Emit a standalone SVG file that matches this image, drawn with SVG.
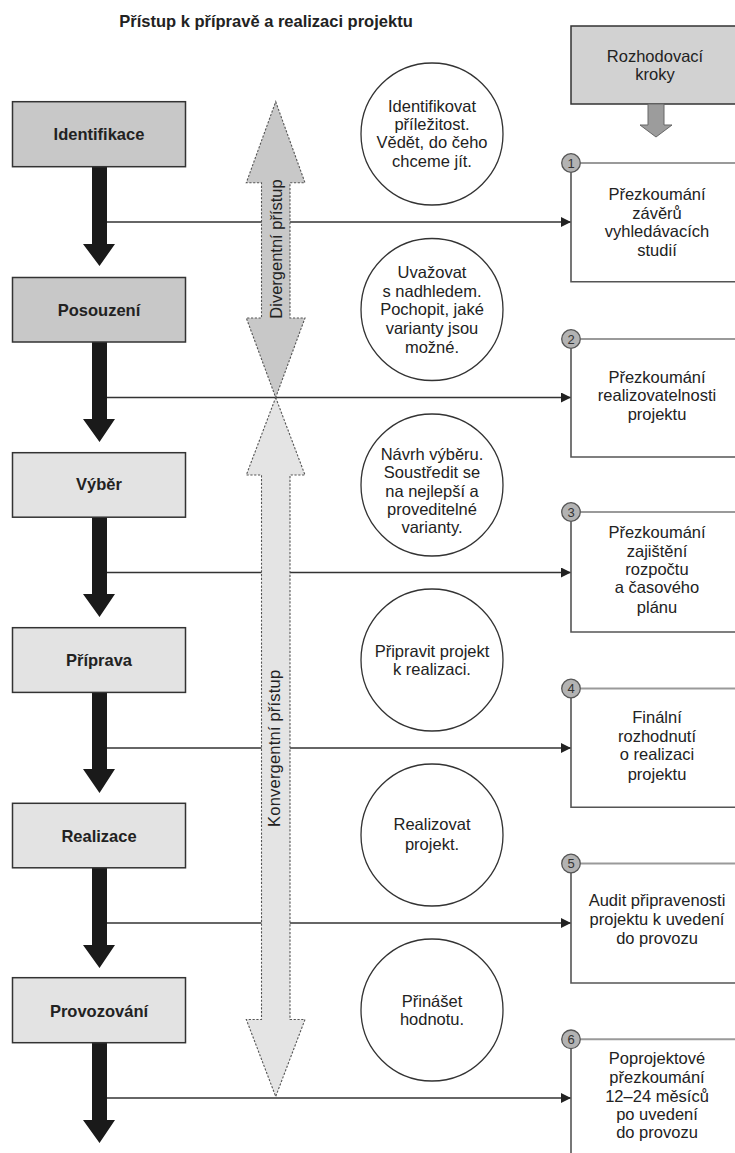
<svg xmlns="http://www.w3.org/2000/svg" width="735" height="1153" viewBox="0 0 735 1153">
<defs>
<style>
text{font-family:"Liberation Sans",Arial,sans-serif;fill:#222;font-size:16.5px;text-anchor:middle}
.b{font-weight:bold}
.phaseA{fill:#c8c8c8;stroke:#333;stroke-width:1.5}
.phaseB{fill:#e3e3e3;stroke:#333;stroke-width:1.5}
.blk{fill:#1a1a1a}
.conn{stroke:#333;stroke-width:1.4;fill:none}
.ell{fill:#fff;stroke:#333;stroke-width:1.3}
.num{fill:#b3b3b3;stroke:#555;stroke-width:1.3}
.numt{font-size:13px;fill:#333}
.rside{stroke:#555;stroke-width:1.6;fill:none}
.rtop{stroke:#9a9a9a;stroke-width:2;fill:none}
.dash{stroke:#555;stroke-width:1.1;stroke-dasharray:2.2 1.6}
</style>
<marker id="ah" viewBox="0 0 10 10" refX="10" refY="5" markerWidth="10" markerHeight="10" markerUnits="userSpaceOnUse" orient="auto">
<path d="M0,0 L10,5 L0,10 Z" fill="#222"/>
</marker>
</defs>
<rect width="735" height="1153" fill="#fff"/>
<text class="b" x="266" y="27">Přístup k přípravě a realizaci projektu</text>

<g id="connectors">
<line class="conn" x1="107" y1="222" x2="571" y2="222" marker-end="url(#ah)"/>
<line class="conn" x1="107" y1="397.5" x2="571" y2="397.5" marker-end="url(#ah)"/>
<line class="conn" x1="107" y1="572.5" x2="571" y2="572.5" marker-end="url(#ah)"/>
<line class="conn" x1="107" y1="748" x2="571" y2="748" marker-end="url(#ah)"/>
<line class="conn" x1="107" y1="923" x2="571" y2="923" marker-end="url(#ah)"/>
<line class="conn" x1="107" y1="1098" x2="571" y2="1098" marker-end="url(#ah)"/>
<path class="blk" d="M92,166.7 H107 V244 H115 L99.5,266 L83,244 H92 Z"/>
<path class="blk" d="M92,342 H107 V419 H115 L99.5,442 L83,419 H92 Z"/>
<path class="blk" d="M92,517 H107 V594 H115 L99.5,617 L83,594 H92 Z"/>
<path class="blk" d="M92,692.5 H107 V769 H115 L99.5,793 L83,769 H92 Z"/>
<path class="blk" d="M92,868 H107 V945 H115 L99.5,968 L83,945 H92 Z"/>
<path class="blk" d="M92,1043 H107 V1120 H115 L99.5,1143 L83,1120 H92 Z"/>
</g>

<g id="divergent">
<path class="dash" fill="#c8c8c8" d="M275.7,101.7 L305,182.7 L290,182.7 L290,318 L305,318 L275.7,397.5 L246.3,318 L261.5,318 L261.5,182.7 L246.3,182.7 Z"/>
<text transform="translate(281.5,249) rotate(-90)">Divergentní přístup</text>
</g>
<g id="convergent">
<path class="dash" fill="#e4e4e4" d="M275.7,397.5 L305,475 L290,475 L290,1019.5 L305,1019.5 L275.7,1096.5 L246.3,1019.5 L261.5,1019.5 L261.5,475 L246.3,475 Z"/>
<text transform="translate(280,748.3) rotate(-90)" style="letter-spacing:0.2px">Konvergentní přístup</text>
</g>

<g id="identifikace"><rect class="phaseA" x="12.5" y="101.7" width="173" height="65"/><text class="b" x="99" y="140">Identifikace</text></g>
<g id="posouzeni"><rect class="phaseA" x="12.5" y="277.5" width="173" height="64.5"/><text class="b" x="99" y="315.5">Posouzení</text></g>
<g id="vyber"><rect class="phaseB" x="12.5" y="452.7" width="173" height="64.5"/><text class="b" x="99" y="490">Výběr</text></g>
<g id="priprava"><rect class="phaseB" x="12.5" y="627.7" width="173" height="64.7"/><text class="b" x="99" y="665.5">Příprava</text></g>
<g id="realizace"><rect class="phaseB" x="12.5" y="803.3" width="173" height="64.5"/><text class="b" x="99" y="841.5">Realizace</text></g>
<g id="provozovani"><rect class="phaseB" x="12.5" y="977.7" width="173" height="65"/><text class="b" x="99" y="1016.5">Provozování</text></g>

<g id="goal1"><circle class="ell" cx="432" cy="134" r="71"/>
<text x="432" y="111.7">Identifikovat</text><text x="432" y="130">příležitost.</text><text x="432" y="148.3">Vědět, do čeho</text><text x="432" y="166.5">chceme jít.</text></g>
<g id="goal2"><circle class="ell" cx="432" cy="309.5" r="71"/>
<text x="432" y="277.5">Uvažovat</text><text x="432" y="296.5">s nadhledem.</text><text x="432" y="315">Pochopit, jaké</text><text x="432" y="333.5">varianty jsou</text><text x="432" y="352.5">možné.</text></g>
<g id="goal3"><circle class="ell" cx="432" cy="485" r="71"/>
<text x="432" y="460">Návrh výběru.</text><text x="432" y="478.3">Soustředit se</text><text x="432" y="496.7">na nejlepší a</text><text x="432" y="515">proveditelné</text><text x="432" y="533.3">varianty.</text></g>
<g id="goal4"><circle class="ell" cx="432" cy="660" r="71"/>
<text x="432" y="656.7">Připravit projekt</text><text x="432" y="675">k realizaci.</text></g>
<g id="goal5"><circle class="ell" cx="432" cy="835" r="71"/>
<text x="432" y="830">Realizovat</text><text x="432" y="849.5">projekt.</text></g>
<g id="goal6"><circle class="ell" cx="432" cy="1010" r="71"/>
<text x="432" y="1006.7">Přinášet</text><text x="432" y="1025">hodnotu.</text></g>

<g id="rozhodovaci">
<rect x="571" y="26" width="170" height="78" fill="#d2d2d2" stroke="#333" stroke-width="1.5"/>
<text x="655" y="61.7">Rozhodovací</text><text x="655" y="80">kroky</text>
<path d="M648,104 H664 V125 H672 L656,137 L640,125 H648 Z" fill="#9c9c9c" stroke="#666" stroke-width="1"/>
</g>

<g id="step1">
<path class="rside" d="M571,172.5 V281.7 H736"/>
<line class="rtop" x1="580.5" y1="163" x2="736" y2="163"/>
<circle class="num" cx="571" cy="163" r="9.3"/><text class="numt" x="571" y="167.7">1</text>
<text x="657" y="200">Přezkoumání</text><text x="657" y="218.5">závěrů</text><text x="657" y="237">vyhledávacích</text><text x="657" y="255.5">studií</text>
</g>
<g id="step2">
<path class="rside" d="M571,348.5 V457 H736"/>
<line class="rtop" x1="580.5" y1="339" x2="736" y2="339"/>
<circle class="num" cx="571" cy="339" r="9.3"/><text class="numt" x="571" y="343.7">2</text>
<text x="657" y="383">Přezkoumání</text><text x="657" y="401">realizovatelnosti</text><text x="657" y="420">projektu</text>
</g>
<g id="step3">
<path class="rside" d="M571,521.5 V632 H736"/>
<line class="rtop" x1="580.5" y1="512" x2="736" y2="512"/>
<circle class="num" cx="571" cy="512" r="9.3"/><text class="numt" x="571" y="516.7">3</text>
<text x="657" y="538.3">Přezkoumání</text><text x="657" y="556.7">zajištění</text><text x="657" y="575">rozpočtu</text><text x="657" y="593.3">a časového</text><text x="657" y="612.5">plánu</text>
</g>
<g id="step4">
<path class="rside" d="M571,697.8 V807.3 H736"/>
<line class="rtop" x1="580.5" y1="688.5" x2="736" y2="688.5"/>
<circle class="num" cx="571" cy="688.5" r="9.3"/><text class="numt" x="571" y="693.2">4</text>
<text x="657" y="723.3">Finální</text><text x="657" y="741.7">rozhodnutí</text><text x="657" y="760">o realizaci</text><text x="657" y="779.5">projektu</text>
</g>
<g id="step5">
<path class="rside" d="M571,872.8 V983 H736"/>
<line class="rtop" x1="580.5" y1="863.5" x2="736" y2="863.5"/>
<circle class="num" cx="571" cy="863.5" r="9.3"/><text class="numt" x="571" y="868.2">5</text>
<text x="657" y="906">Audit připravenosti</text><text x="657" y="925">projektu k uvedení</text><text x="657" y="943.5">do provozu</text>
</g>
<g id="step6">
<path class="rside" d="M571,1048.5 V1153"/>
<line class="rtop" x1="580.5" y1="1039.3" x2="736" y2="1039.3"/>
<circle class="num" cx="571" cy="1039.3" r="9.3"/><text class="numt" x="571" y="1044">6</text>
<text x="657" y="1064">Poprojektové</text><text x="657" y="1083.3">přezkoumání</text><text x="657" y="1101.7">12–24 měsíců</text><text x="657" y="1120">po uvedení</text><text x="657" y="1138.3">do provozu</text>
</g>
</svg>
